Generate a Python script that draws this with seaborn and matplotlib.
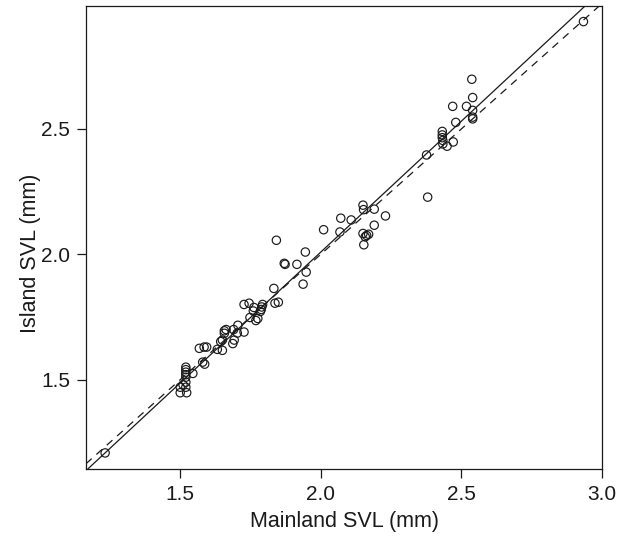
import numpy as np
import pandas as pd
import seaborn as sns
import matplotlib.pyplot as plt

# snout-vent length, mainland vs island
mainland_svl = [
    1.233,
    1.520, 1.520, 1.520, 1.520, 1.520, 1.520, 1.520, 1.510, 1.500, 1.500, 1.523,
    1.545, 1.568, 1.585, 1.594, 1.580, 1.587,
    1.632, 1.650, 1.644, 1.650, 1.657, 1.657, 1.663, 1.687, 1.692, 1.690,
    1.705, 1.703, 1.727, 1.727, 1.745, 1.748, 1.769, 1.776, 1.760, 1.762,
    1.788, 1.790, 1.793, 1.785, 1.833, 1.837, 1.849, 1.842,
    1.870, 1.873, 1.915, 1.948, 1.937, 1.945,
    2.010, 2.071, 2.068, 2.108, 2.150, 2.152, 2.190, 2.230, 2.190,
    2.150, 2.163, 2.170, 2.158, 2.153,
    2.380, 2.376, 2.432, 2.432, 2.432, 2.434, 2.434, 2.449, 2.471, 2.480,
    2.469, 2.518, 2.540, 2.540, 2.540, 2.540, 2.537,
    2.934,
]
island_svl = [
    1.208,
    1.550, 1.540, 1.530, 1.520, 1.510, 1.490, 1.470, 1.480, 1.448, 1.470, 1.448,
    1.525, 1.625, 1.630, 1.630, 1.570, 1.562,
    1.621, 1.617, 1.652, 1.658, 1.685, 1.695, 1.700, 1.644, 1.658, 1.700,
    1.717, 1.686, 1.690, 1.800, 1.805, 1.748, 1.736, 1.744, 1.774, 1.788,
    1.780, 1.790, 1.800, 1.772, 1.864, 1.805, 1.809, 2.056,
    1.964, 1.960, 1.960, 1.929, 1.881, 2.009,
    2.098, 2.144, 2.089, 2.137, 2.196, 2.178, 2.180, 2.153, 2.116,
    2.083, 2.075, 2.080, 2.070, 2.038,
    2.228, 2.396, 2.490, 2.476, 2.465, 2.454, 2.440, 2.431, 2.448, 2.526,
    2.590, 2.590, 2.574, 2.547, 2.540, 2.625, 2.698,
    2.928,
]

# fitted line (solid) and isometry y = x (dashed): intercept, slope
fit_line = (-0.079, 1.044)
iso_line = (0.0, 1.0)

x_ticks = [1.5, 2.0, 2.5, 3.0]
y_ticks = [1.5, 2.0, 2.5]

df = pd.DataFrame({"mainland": mainland_svl, "island": island_svl})

sns.set_theme(style="ticks")
plt.rcParams["font.family"] = ["Liberation Sans", "DejaVu Sans"]
plt.rcParams["lines.scale_dashes"] = False

fig = plt.figure(figsize=(6.17, 5.38), dpi=100)
ax = fig.add_axes([0.1394, 0.1283, 0.8363, 0.8605])

sns.scatterplot(data=df, x="mainland", y="island", ax=ax, marker="o", s=36,
                facecolors="none", edgecolors="#1a1a1a", linewidths=0.85, zorder=3)

ax.axline((0, fit_line[0]), slope=fit_line[1], color="#1a1a1a", lw=0.9, zorder=2)
ax.axline((0, iso_line[0]), slope=iso_line[1], color="#1a1a1a", lw=0.9,
          dashes=(5.5, 4.5), zorder=2)

ax.set_xlim(1.165, 3.0)
ax.set_ylim(1.144, 2.99)
ax.set_xticks(x_ticks)
ax.set_yticks(y_ticks)
ax.set_xticklabels([f"{t:.1f}" for t in x_ticks])
ax.set_yticklabels([f"{t:.1f}" for t in y_ticks])

for side in ["top", "right", "bottom", "left"]:
    ax.spines[side].set_visible(True)
    ax.spines[side].set_color("#1a1a1a")
    ax.spines[side].set_linewidth(0.9)

ax.tick_params(axis="both", direction="out", length=6.5, width=0.9,
               color="#1a1a1a", labelsize=15, labelcolor="#1a1a1a", pad=5)

ax.set_xlabel("Mainland SVL (mm)", fontsize=15.5, color="#1a1a1a", labelpad=5)
ax.set_ylabel("Island SVL (mm)", fontsize=15.5, color="#1a1a1a")
ax.yaxis.set_label_coords(-0.087, 0.465)

fig.savefig("out.png", dpi=100, facecolor="white")
